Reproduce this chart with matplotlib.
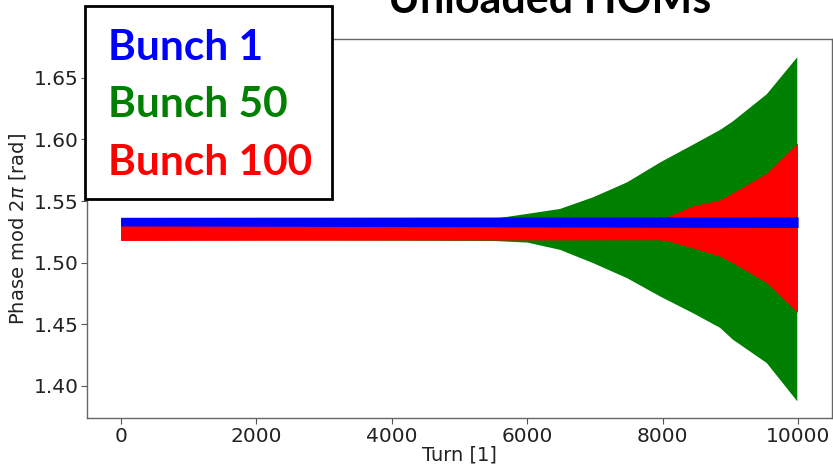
import matplotlib
matplotlib.use("Agg")
import matplotlib.pyplot as plt
from matplotlib.patches import Rectangle

# envelopes of the phase oscillation (turn, upper, lower)
turn_b = [0, 10000]
upper_b = [1.5368, 1.5372]
lower_b = [1.5298, 1.5285]

turn_g = [0, 5500, 6000, 6480, 6970, 7470, 7960, 8440, 8840, 9030, 9530, 9980]
upper_g = [1.535, 1.536, 1.540, 1.544, 1.5535, 1.5656, 1.5818, 1.596, 1.608, 1.615, 1.637, 1.667]
lower_g = [1.519, 1.518, 1.5167, 1.5108, 1.500, 1.4878, 1.4729, 1.4595, 1.4476, 1.438, 1.419, 1.388]

turn_r = [0, 7900, 8060, 8440, 8840, 9030, 9530, 9990]
upper_r = [1.534, 1.535, 1.537, 1.546, 1.5508, 1.5565, 1.5724, 1.597]
lower_r = [1.518, 1.5186, 1.5180, 1.512, 1.5054, 1.500, 1.484, 1.4597]

labels = ["Bunch 1", "Bunch 50", "Bunch 100"]
colors = ["blue", "green", "red"]

xticks = [0, 2000, 4000, 6000, 8000, 10000]
yticks = [1.40, 1.45, 1.50, 1.55, 1.60, 1.65]

fig = plt.figure(figsize=(8.33, 4.66), dpi=100)
ax = fig.add_axes([0.1041, 0.1024, 0.8947, 0.8139])

ax.fill_between(turn_g, lower_g, upper_g, color="green", lw=0, zorder=2)
ax.fill_between(turn_r, lower_r, upper_r, color="red", lw=0, zorder=3)
ax.fill_between(turn_b, lower_b, upper_b, color="blue", lw=0, zorder=4)

ax.set_xlim(-500, 10500)
ax.set_ylim(1.3738, 1.6814)
ax.set_xticks(xticks)
ax.set_yticks(yticks)
ax.set_yticklabels(["%.2f" % v for v in yticks])
ax.tick_params(labelsize=14.5, length=4, color="#555555", labelcolor="#222222", pad=2)
for s in ax.spines.values():
    s.set_color("#666666")
    s.set_linewidth(1.0)

ax.set_xlabel("Turn [1]", fontsize=14, color="#222222", labelpad=0)
ax.set_ylabel(r"Phase mod $2\pi$ [rad]", fontsize=14, color="#222222", labelpad=4)

# title, partly cut by the top edge
fig.text(550 / 833, 1 - 13 / 466, "Unloaded HOMs", ha="center", va="baseline",
         fontsize=31, fontweight="bold", family="Lato")

# boxed bunch labels
fig.patches.append(Rectangle((85 / 833, 1 - 199 / 466), 247 / 833, 193 / 466,
                             transform=fig.transFigure, facecolor="white",
                             edgecolor="black", lw=2, zorder=10))
for i, (lab, c) in enumerate(zip(labels, colors)):
    fig.text(108 / 833, 1 - (60 + 57.5 * i) / 466, lab, color=c, ha="left",
             va="baseline", fontsize=30.5, fontweight="bold", family="Lato",
             zorder=11)

fig.savefig("out.png", dpi=100)
